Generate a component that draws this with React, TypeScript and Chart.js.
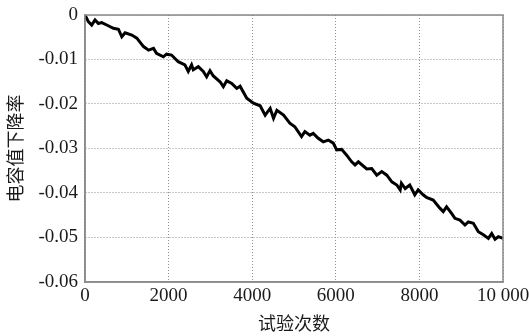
import React, { useEffect, useRef } from "react";
import { Chart, registerables } from "chart.js";

Chart.register(...registerables);

const trials = [
  0, 80, 160, 240, 320, 400, 520, 680, 800, 880,
  960, 1120, 1240, 1400, 1520, 1640, 1710, 1875, 1950, 2070,
  2230, 2390, 2470, 2550, 2590, 2710, 2830, 2910, 2990, 3070,
  3230, 3310, 3390, 3510, 3630, 3710, 3870, 4030, 4190, 4310,
  4430, 4510, 4590, 4750, 4900, 5020, 5180, 5260, 5380, 5460,
  5580, 5700, 5820, 5940, 6020, 6140, 6260, 6380, 6460, 6540,
  6740, 6860, 6980, 7100, 7220, 7340, 7460, 7540, 7570, 7660,
  7770, 7890, 7970, 8090, 8170, 8330, 8490, 8570, 8650, 8770,
  8850, 8970, 9090, 9170, 9290, 9410, 9530, 9650, 9730, 9810,
  9890, 10000,
];

const dropRate = [
  0, -0.0015, -0.00225, -0.0011, -0.0019, -0.0017, -0.00225, -0.003, -0.0032, -0.0049,
  -0.004, -0.0045, -0.0052, -0.0071, -0.0079, -0.0075, -0.0086, -0.0094, -0.0088, -0.009,
  -0.0105, -0.0112, -0.0127, -0.0112, -0.0123, -0.0116, -0.0127, -0.0139, -0.0125, -0.0137,
  -0.015, -0.0161, -0.0148, -0.0154, -0.0165, -0.016, -0.0187, -0.0198, -0.0204, -0.0225,
  -0.021, -0.0232, -0.0214, -0.0225, -0.0243, -0.0251, -0.0273, -0.0262, -0.027, -0.0266,
  -0.0277, -0.0285, -0.0281, -0.0288, -0.0303, -0.0302, -0.0315, -0.033, -0.0337, -0.033,
  -0.0346, -0.0345, -0.036, -0.0352, -0.036, -0.0375, -0.0382, -0.0393, -0.0378, -0.039,
  -0.0382, -0.0404, -0.0393, -0.0404, -0.041, -0.0416, -0.0434, -0.0442, -0.0431, -0.0446,
  -0.0457, -0.0461, -0.0472, -0.0465, -0.0468, -0.0487, -0.0494, -0.0502, -0.0491, -0.0504,
  -0.0498, -0.0502,
];

const xTickLabels = ["0", "2000", "4000", "6000", "8000", "10 000"];
const yTickLabels = ["-0.06", "-0.05", "-0.04", "-0.03", "-0.02", "-0.01", "0"];
const xTitle = "试验次数";
const yTitle = "电容值下降率";

const frameColor = "#8a8a8a";
const gridColor = "#8f8f8f";
const textColor = "#1a1a1a";
const serif = "'Liberation Serif', 'Times New Roman', serif";
const cjk = "'Noto Sans CJK SC', sans-serif";

const framePlugin = {
  id: "frame",
  afterDraw(chart: any) {
    const { ctx, chartArea } = chart;
    ctx.save();
    ctx.strokeStyle = frameColor;
    ctx.lineWidth = 1.5;
    ctx.setLineDash([]);
    ctx.strokeRect(chartArea.left, chartArea.top, chartArea.right - chartArea.left, chartArea.bottom - chartArea.top);
    ctx.restore();
  },
};

export default function App() {
  const canvasRef = useRef<HTMLCanvasElement | null>(null);

  useEffect(() => {
    document.body.style.margin = "0";
    const canvas = canvasRef.current;
    if (!canvas) return;
    const points = trials.map((t, i) => ({ x: t, y: dropRate[i] }));
    const chart = new Chart(canvas, {
      type: "line",
      data: {
        datasets: [
          {
            data: points,
            borderColor: "#000000",
            borderWidth: 3,
            pointRadius: 0,
            tension: 0,
            fill: false,
          },
        ],
      },
      options: {
        animation: false,
        responsive: false,
        maintainAspectRatio: false,
        layout: { padding: { top: 15, right: 26, left: 0, bottom: 0 } },
        plugins: { legend: { display: false }, tooltip: { enabled: false } },
        scales: {
          x: {
            type: "linear",
            min: 0,
            max: 10000,
            afterBuildTicks(scale: any) {
              scale.ticks = xTickLabels.map((_, i) => ({ value: i * 2000 }));
            },
            afterFit(scale: any) {
              scale.height = 54;
              scale.paddingRight = 0;
              scale.paddingLeft = 0;
            },
            ticks: {
              color: textColor,
              font: { family: serif, size: 19 },
              padding: 3,
              maxRotation: 0,
              autoSkip: false,
              callback: (_v: any, i: number) => xTickLabels[i],
            },
            grid: {
              color: gridColor,
              lineWidth: 1,
              drawTicks: false,
            },
            border: { display: true, color: frameColor, width: 1.5, dash: [1, 2] },
            title: {
              display: true,
              text: xTitle,
              color: textColor,
              font: { family: cjk, size: 18 },
              padding: { top: 0, bottom: 2 },
            },
          },
          y: {
            type: "linear",
            min: -0.06,
            max: 0,
            afterBuildTicks(scale: any) {
              scale.ticks = yTickLabels.map((_, i) => ({ value: -0.06 + i * 0.01 }));
            },
            afterFit(scale: any) {
              scale.width = 85;
              scale.paddingTop = 0;
              scale.paddingBottom = 0;
            },
            ticks: {
              color: textColor,
              font: { family: serif, size: 19 },
              padding: 7,
              autoSkip: false,
              callback: (_v: any, i: number) => yTickLabels[i],
            },
            grid: {
              color: gridColor,
              lineWidth: 1,
              drawTicks: false,
            },
            border: { display: true, color: frameColor, width: 1.5, dash: [1, 2] },
            title: {
              display: true,
              text: yTitle,
              color: textColor,
              font: { family: cjk, size: 18 },
              padding: { top: 4, bottom: 0 },
            },
          },
        },
      },
      plugins: [framePlugin],
    } as any);
    return () => chart.destroy();
  }, []);

  return (
    <div style={{ position: "relative", width: 529, height: 336, background: "#ffffff" }}>
      <canvas ref={canvasRef} width={529} height={336} style={{ display: "block" }} />
    </div>
  );
}
